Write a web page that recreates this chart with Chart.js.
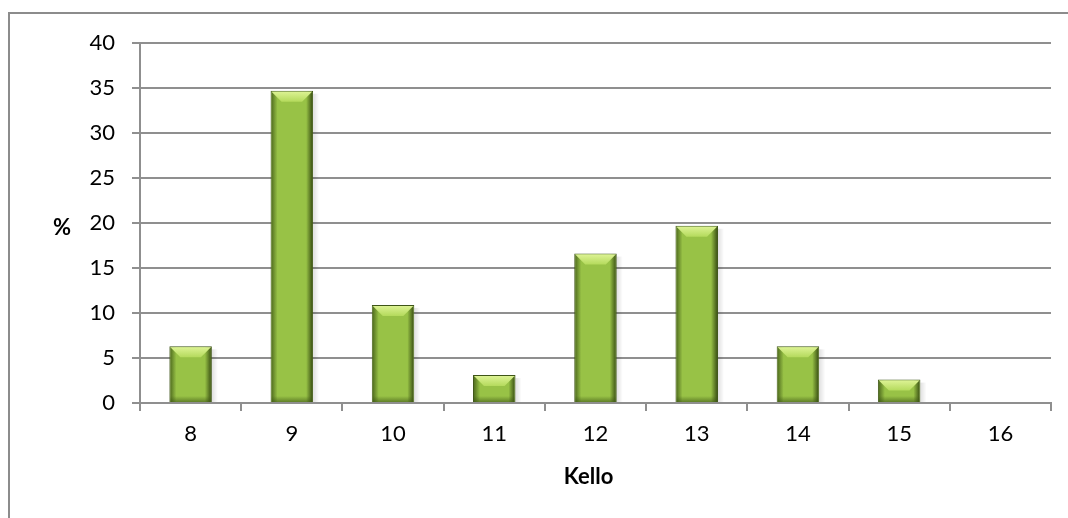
<!DOCTYPE html>
<html>
<head>
<meta charset="utf-8">
<script src="https://cdn.jsdelivr.net/npm/chart.js@4/dist/chart.umd.min.js"></script>
<style>
  html, body { margin: 0; padding: 0; background: #fff; }
  #wrap { position: relative; width: 1068px; height: 518px; overflow: hidden; }
  #frame { position: absolute; left: 8px; top: 12px; width: 1100px; height: 600px;
           border-left: 2px solid #8c8c8c; border-top: 2px solid #8c8c8c; }
  #chart { position: absolute; left: 0; top: 0; }
</style>
</head>
<body>
<div id="wrap">
  <div id="frame"></div>
  <canvas id="chart" width="1068" height="518"></canvas>
</div>
<script>
// data
const hours = ['8', '9', '10', '11', '12', '13', '14', '15', '16'];
const percents = [6.3, 34.7, 10.9, 3.1, 16.6, 19.7, 6.3, 2.6, 0];
const yTicks = [0, 5, 10, 15, 20, 25, 30, 35, 40];
const xTitle = 'Kello';
const yTitle = '%';

const FONT = 'Lato, "Open Sans", sans-serif';
const GRID = '#8f8f8f';

// green bar, lighter at the top and darker towards the base
function barFill(context) {
    const el = context.element;
    const ctx = context.chart.ctx;
    if (!el || el.base === undefined || el.base - el.y < 1) return '#98c246';
    const g = ctx.createLinearGradient(0, el.y, 0, el.base);
    g.addColorStop(0, '#a6cf4e');
    g.addColorStop(0.5, '#98c045');
    g.addColorStop(1, '#86a93a');
    return g;
}

// soft shadow behind the bars
const shadow = {
    id: 'shadow',
    beforeDatasetsDraw(chart) {
        const ctx = chart.ctx;
        ctx.save();
        chart.getDatasetMeta(0).data.forEach((bar) => {
            const h = bar.base - bar.y;
            if (h < 2) return;
            const r = bar.x + bar.width / 2;
            const g = ctx.createLinearGradient(r, 0, r + 6, 0);
            g.addColorStop(0, 'rgba(0,0,0,0.12)');
            g.addColorStop(1, 'rgba(0,0,0,0)');
            ctx.fillStyle = g;
            ctx.fillRect(r, bar.y + 3, 6, h - 3);
        });
        ctx.restore();
    }
};

// bevel: light top edge, darker sides and base
const bevel = {
    id: 'bevel',
    afterDatasetsDraw(chart) {
        const ctx = chart.ctx;
        ctx.save();
        chart.getDatasetMeta(0).data.forEach((bar) => {
            const h = bar.base - bar.y;
            if (h < 2) return;
            const l = bar.x - bar.width / 2 + 1;
            const r = bar.x + bar.width / 2 - 1;
            const top = bar.y + 1;
            const bot = bar.base;
            const d = Math.min(10, h / 2);

            // dark side edges
            let g = ctx.createLinearGradient(l, 0, l + 6, 0);
            g.addColorStop(0, 'rgba(60,85,20,0.75)');
            g.addColorStop(1, 'rgba(60,85,20,0)');
            ctx.fillStyle = g;
            ctx.fillRect(l, top, 6, bot - top);
            g = ctx.createLinearGradient(r, 0, r - 6, 0);
            g.addColorStop(0, 'rgba(50,70,15,0.85)');
            g.addColorStop(1, 'rgba(50,70,15,0)');
            ctx.fillStyle = g;
            ctx.fillRect(r - 6, top, 6, bot - top);

            // dark base strip
            const b = Math.min(6, h / 3);
            g = ctx.createLinearGradient(0, bot, 0, bot - b);
            g.addColorStop(0, 'rgba(60,85,20,0.6)');
            g.addColorStop(1, 'rgba(60,85,20,0)');
            ctx.fillStyle = g;
            ctx.fillRect(l, bot - b, r - l, b);

            // light top bevel
            g = ctx.createLinearGradient(0, top, 0, top + d);
            g.addColorStop(0, '#dcf293');
            g.addColorStop(1, '#b4da5c');
            ctx.fillStyle = g;
            ctx.beginPath();
            ctx.moveTo(l, top);
            ctx.lineTo(r, top);
            ctx.lineTo(r - d, top + d);
            ctx.lineTo(l + d, top + d);
            ctx.closePath();
            ctx.fill();
        });
        ctx.restore();
    }
};

// axis titles placed like the original (the % is not rotated)
const axisTitles = {
    id: 'axisTitles',
    afterDraw(chart) {
        const ctx = chart.ctx;
        const a = chart.chartArea;
        ctx.save();
        ctx.font = 'bold 22px ' + FONT;
        ctx.fillStyle = '#000';
        ctx.textAlign = 'center';
        ctx.textBaseline = 'middle';
        ctx.fillText(yTitle, 62, (a.top + a.bottom) / 2 + 5);
        ctx.fillText(xTitle, (a.left + a.right) / 2 - 7, 477);
        ctx.restore();
    }
};

new Chart(document.getElementById('chart'), {
    type: 'bar',
    data: {
        labels: hours,
        datasets: [{
            data: percents,
            backgroundColor: barFill,
            borderColor: '#3f5518',
            borderWidth: 1,
            categoryPercentage: 1,
            barPercentage: 0.42
        }]
    },
    options: {
        responsive: false,
        animation: false,
        layout: { padding: { top: 43, right: 17, left: 0, bottom: 0 } },
        plugins: {
            legend: { display: false },
            tooltip: { enabled: false }
        },
        scales: {
            x: {
                afterFit: (s) => { s.height = 115; },
                grid: {
                    drawOnChartArea: false,
                    color: GRID,
                    lineWidth: 2,
                    tickLength: 8
                },
                border: { color: GRID, width: 2 },
                ticks: {
                    color: '#000',
                    padding: 10,
                    font: { family: FONT, size: 22 }
                }
            },
            y: {
                min: 0,
                max: 40,
                afterFit: (s) => { s.width = 140; },
                afterBuildTicks: (s) => { s.ticks = yTicks.map(v => ({ value: v })); },
                grid: {
                    color: GRID,
                    lineWidth: 2,
                    tickLength: 8
                },
                border: { color: GRID, width: 2 },
                ticks: {
                    color: '#000',
                    padding: 17,
                    font: { family: FONT, size: 22 }
                }
            }
        }
    },
    plugins: [shadow, bevel, axisTitles]
});
</script>
</body>
</html>
